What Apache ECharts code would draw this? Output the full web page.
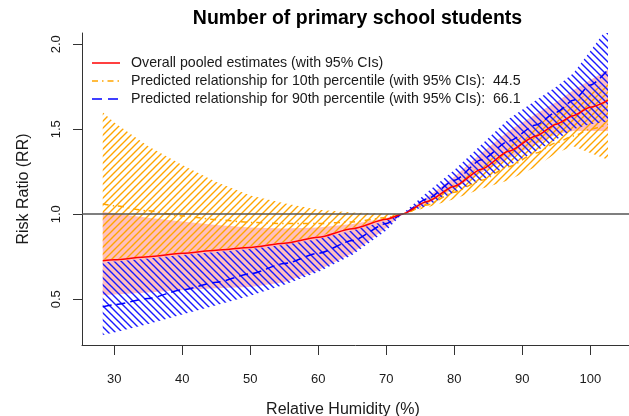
<!DOCTYPE html>
<html><head><meta charset="utf-8">
<script src="https://cdn.jsdelivr.net/npm/echarts@6/dist/echarts.min.js"></script>
<style>html,body{margin:0;padding:0;background:#fff}#c{width:629px;height:416px}</style>
</head><body><div id="c"></div>
<script>
// Relative humidity grid (x values as read on the axis)
const humidity    = [28.3, 30, 35, 40, 45, 50, 55, 60, 65, 70, 72.3, 76, 80, 84, 88, 92, 95, 97.5, 100, 102.6];
// Overall pooled estimate and 95% CI
const pooledEst   = [0.727, 0.732, 0.75, 0.77, 0.788, 0.805, 0.83, 0.865, 0.915, 0.97, 1.0, 1.075, 1.165, 1.265, 1.37, 1.46, 1.53, 1.58, 1.63, 1.67];
const pooledUpper = [1.015, 1.005, 0.98, 0.957, 0.937, 0.922, 0.916, 0.922, 0.942, 0.978, 1.0, 1.1, 1.22, 1.36, 1.49, 1.59, 1.66, 1.73, 1.79, 1.85];
const pooledLower = [0.525, 0.528, 0.54, 0.555, 0.565, 0.572, 0.6, 0.67, 0.77, 0.92, 1.0, 1.06, 1.15, 1.245, 1.33, 1.41, 1.47, 1.49, 1.49, 1.49];
// 10th percentile (44.5) prediction and 95% CI
const p10Est      = [1.06, 1.05, 1.02, 0.99, 0.968, 0.952, 0.945, 0.945, 0.955, 0.98, 1.0, 1.055, 1.13, 1.2, 1.28, 1.36, 1.42, 1.46, 1.5, 1.53];
const p10Upper    = [1.60, 1.54, 1.40, 1.29, 1.19, 1.11, 1.065, 1.027, 1.01, 1.003, 1.0, 1.08, 1.18, 1.29, 1.40, 1.52, 1.6, 1.66, 1.72, 1.78];
const p10Lower    = [0.732, 0.737, 0.755, 0.775, 0.793, 0.81, 0.835, 0.87, 0.92, 0.973, 1.0, 1.04, 1.09, 1.15, 1.2, 1.28, 1.36, 1.4, 1.36, 1.32];
// 90th percentile (66.1) prediction and 95% CI
const p90Est      = [0.456, 0.468, 0.505, 0.555, 0.6, 0.65, 0.71, 0.77, 0.845, 0.945, 1.0, 1.09, 1.2, 1.32, 1.43, 1.525, 1.6, 1.67, 1.76, 1.85];
const p90Upper    = [0.717, 0.722, 0.74, 0.76, 0.778, 0.795, 0.82, 0.855, 0.905, 0.962, 1.0, 1.13, 1.26, 1.41, 1.56, 1.67, 1.75, 1.83, 1.96, 2.1];
const p90Lower    = [0.29, 0.305, 0.355, 0.41, 0.465, 0.52, 0.585, 0.66, 0.76, 0.905, 1.0, 1.05, 1.13, 1.2, 1.285, 1.37, 1.44, 1.5, 1.53, 1.545];

const xTicks = [30, 40, 50, 60, 70, 80, 90, 100];
const yTicks = [0.5, 1.0, 1.5, 2.0];
const refValue = 1.0;

const titleText = 'Number of primary school students';
const xTitle = 'Relative Humidity (%)';
const yTitle = 'Risk Ratio (RR)';
const legendLabels = [
  'Overall pooled estimates (with 95% CIs)',
  'Predicted relationship for 10th percentile (with 95% CIs):  44.5',
  'Predicted relationship for 90th percentile (with 95% CIs):  66.1'
];

const FONT = 'Liberation Sans, Arial, Helvetica, sans-serif';
const TXT = '#1a1a1a';

function hatch(color, forward) {
  const s = 7;
  const c = document.createElement('canvas');
  c.width = s; c.height = s;
  const g = c.getContext('2d');
  g.strokeStyle = color; g.lineWidth = 1.4; g.lineCap = 'square';
  g.beginPath();
  for (let k = -1; k <= 1; k++) {
    if (forward) { g.moveTo(k * s - 1, s + 1); g.lineTo(k * s + s + 1, -1); }
    else { g.moveTo(k * s - 1, -1); g.lineTo(k * s + s + 1, s + 1); }
  }
  g.stroke();
  return { image: c, repeat: 'repeat' };
}

function band(upper, lower, fill) {
  return {
    type: 'custom', coordinateSystem: 'cartesian2d', clip: true, silent: true,
    data: [[humidity[0], lower[0]]],
    renderItem(params, api) {
      const pts = humidity.map((x, i) => api.coord([x, upper[i]]));
      for (let i = humidity.length - 1; i >= 0; i--) pts.push(api.coord([humidity[i], lower[i]]));
      return { type: 'polygon', shape: { points: pts }, style: { fill: fill } };
    }
  };
}

function curve(vals, color, dash) {
  return {
    type: 'line', data: humidity.map((x, i) => [x, vals[i]]), showSymbol: false, symbol: 'none',
    smooth: 0.25, smoothMonotone: 'x', silent: true, clip: true,
    lineStyle: { color: color, width: 1.5, type: dash }
  };
}

const chart = echarts.init(document.getElementById('c'), null, { renderer: 'canvas' });

const refLine = curve(pooledEst, '#ff0000', 'solid');
refLine.markLine = {
  silent: true, symbol: 'none', label: { show: false }, animation: false,
  lineStyle: { color: '#555', width: 1.5, type: 'solid' },
  data: [{ yAxis: refValue }]
};

const legendY = [63, 81, 99];
const legendStyles = [
  { color: '#ff0000', dash: null },
  { color: '#ffa500', dash: [6, 4, 1.5, 4] },
  { color: '#0000ff', dash: [10, 6] }
];
const graphics = [
  { type: 'text', x: 357.5, y: 19, style: { text: titleText, align: 'center', verticalAlign: 'middle', fontFamily: FONT, fontSize: 19.5, fontWeight: 'bold', fill: '#000' } }
];
legendLabels.forEach((t, i) => {
  graphics.push({ type: 'line', shape: { x1: 92, y1: legendY[i], x2: 120, y2: legendY[i] },
    style: { stroke: legendStyles[i].color, lineWidth: 1.5, lineDash: legendStyles[i].dash } });
  graphics.push({ type: 'text', x: 131, y: legendY[i], style: { text: t, align: 'left', verticalAlign: 'middle', fontFamily: FONT, fontSize: 14.2, fill: TXT } });
});

chart.setOption({
  animation: false,
  backgroundColor: '#fff',
  grid: { left: 82, right: 0, top: 33, bottom: 71, containLabel: false, outerBoundsMode: 'none' },
  xAxis: {
    type: 'value', min: 25.25, max: 105.69,
    name: xTitle, nameLocation: 'middle', nameGap: 57,
    nameTextStyle: { fontFamily: FONT, fontSize: 16, color: TXT, padding: [0, 25, 0, 0] },
    axisLine: { show: true, lineStyle: { color: '#333', width: 1 } },
    axisTick: { show: true, length: 10, lineStyle: { color: '#333' }, customValues: xTicks },
    axisLabel: { show: true, margin: 28, fontFamily: FONT, fontSize: 13, color: TXT, customValues: xTicks, formatter: v => String(v) },
    splitLine: { show: false }
  },
  yAxis: {
    type: 'value', min: 0.231, max: 2.066,
    name: yTitle, nameLocation: 'middle', nameGap: 50,
    nameTextStyle: { fontFamily: FONT, fontSize: 16, color: TXT },
    axisLine: { show: true, lineStyle: { color: '#333', width: 1 } },
    axisTick: { show: true, length: 9, lineStyle: { color: '#333' }, customValues: yTicks },
    axisLabel: { show: true, rotate: 90, margin: 19, fontFamily: FONT, fontSize: 13, color: TXT, customValues: yTicks, formatter: v => v.toFixed(1) },
    splitLine: { show: false }
  },
  graphic: graphics,
  series: [
    band(pooledUpper, pooledLower, 'rgba(255,0,0,0.25)'),
    band(p10Upper, p10Lower, hatch('#ffa500', true)),
    band(p90Upper, p90Lower, hatch('#1a1aff', false)),
    curve(p10Est, '#ffa500', [6, 4, 1.5, 4]),
    curve(p90Est, '#0000ff', [9, 5]),
    refLine
  ]
});
</script></body></html>
